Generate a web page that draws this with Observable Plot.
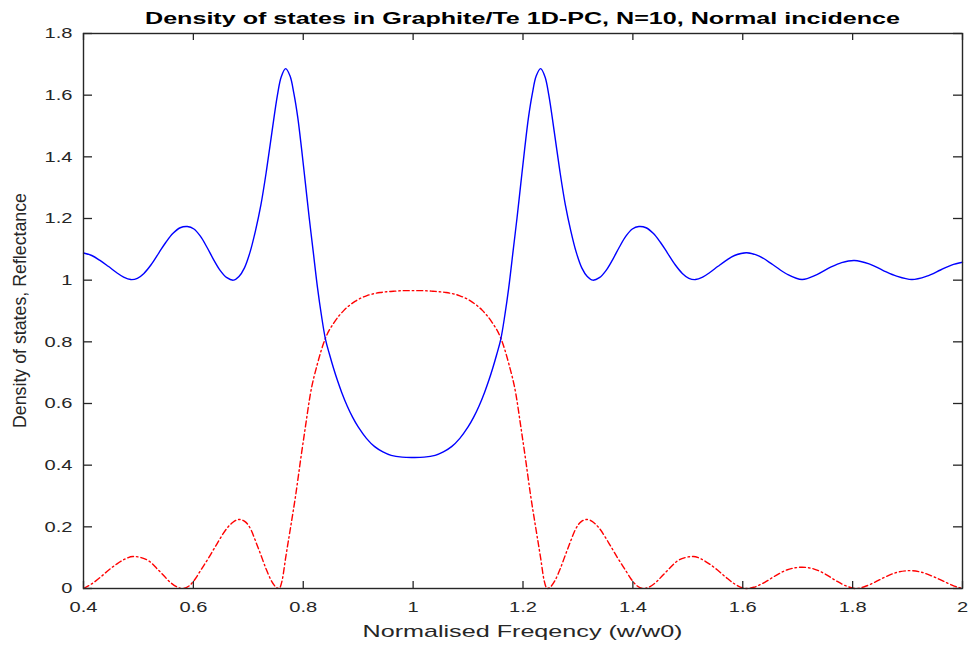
<!DOCTYPE html>
<html><head><meta charset="utf-8">
<script src="https://cdn.jsdelivr.net/npm/d3@7"></script>
<script src="https://cdn.jsdelivr.net/npm/@observablehq/plot@0.6"></script>
<style>
html,body{margin:0;padding:0;background:#fff;}
#chart{position:relative;width:968px;height:646px;}
</style></head><body><div id="chart"></div>
<script>
// Density of states (blue, solid)
const dosFreq = [0.400,0.415,0.430,0.445,0.460,0.473,0.486,0.498,0.510,0.523,0.537,0.550,0.563,0.576,0.589,0.601,0.613,0.625,0.637,0.649,0.661,0.673,0.683,0.693,0.703,0.713,0.723,0.733,0.743,0.753,0.760,0.768,0.776,0.783,0.790,0.797,0.804,0.811,0.818,0.826,0.833,0.8405,0.848,0.855,0.862,0.870,0.880,0.890,0.900,0.915,0.930,0.945,0.960,0.980,1.000,
  1.020,1.040,1.055,1.070,1.085,1.100,1.110,1.120,1.130,1.138,1.145,1.152,1.1595,1.167,1.174,1.182,1.189,1.196,1.203,1.210,1.217,1.224,1.232,1.240,1.247,1.257,1.267,1.277,1.287,1.297,1.307,1.317,1.327,1.339,1.351,1.363,1.375,1.387,1.399,1.411,1.424,1.437,1.450,1.463,1.477,1.490,1.502,1.514,1.527,1.540,1.555,1.570,1.585,
  1.607,1.630,1.655,1.680,1.708,1.735,1.760,1.780,1.803,1.830,1.855,1.880,1.908,1.935,1.960,1.980,2.000];
const dosValue = [1.088,1.080,1.064,1.045,1.025,1.010,1.002,1.006,1.022,1.050,1.088,1.123,1.152,1.170,1.174,1.166,1.142,1.106,1.066,1.031,1.008,1.000,1.012,1.040,1.090,1.160,1.245,1.355,1.480,1.600,1.660,1.686,1.662,1.605,1.528,1.425,1.313,1.200,1.095,0.975,0.887,0.808,0.758,0.715,0.676,0.636,0.592,0.555,0.524,0.487,0.460,0.443,0.432,0.426,0.425,
  0.426,0.432,0.443,0.460,0.487,0.524,0.555,0.592,0.636,0.676,0.715,0.758,0.808,0.887,0.975,1.095,1.200,1.313,1.425,1.528,1.605,1.662,1.686,1.660,1.600,1.480,1.355,1.245,1.160,1.090,1.040,1.012,1.000,1.008,1.031,1.066,1.106,1.142,1.166,1.174,1.170,1.152,1.123,1.088,1.050,1.022,1.006,1.002,1.010,1.025,1.045,1.064,1.080,
  1.089,1.078,1.050,1.020,1.002,1.018,1.042,1.057,1.064,1.053,1.032,1.013,1.002,1.013,1.033,1.049,1.058];

// Reflectance (red, dash-dot)
const refFreq = [0.400,0.415,0.431,0.446,0.461,0.475,0.490,0.505,0.520,0.534,0.546,0.558,0.570,0.580,0.592,0.603,0.613,0.628,0.643,0.661,0.672,0.683,0.694,0.705,0.714,0.722,0.732,0.742,0.750,0.756,0.762,0.768,0.777,0.786,0.795,0.804,0.813,0.826,0.840,0.857,0.874,0.895,0.916,0.940,0.964,0.985,1.000,
  1.015,1.036,1.060,1.084,1.105,1.126,1.143,1.160,1.174,1.187,1.196,1.205,1.214,1.223,1.232,1.238,1.244,1.250,1.258,1.268,1.278,1.286,1.295,1.306,1.317,1.328,1.339,1.357,1.372,1.387,1.397,1.408,1.420,1.430,1.442,1.454,1.466,1.480,1.495,1.510,1.525,1.539,1.554,1.569,1.585,
  1.607,1.620,1.640,1.660,1.680,1.708,1.730,1.750,1.770,1.790,1.805,1.820,1.840,1.860,1.880,1.905,1.925,1.945,1.965,1.985,2.000];
const refValue = [0.000,0.015,0.037,0.060,0.080,0.095,0.104,0.100,0.088,0.064,0.042,0.020,0.005,0.000,0.008,0.030,0.058,0.100,0.145,0.195,0.215,0.224,0.217,0.190,0.150,0.113,0.065,0.025,0.005,0.000,0.030,0.100,0.199,0.300,0.415,0.525,0.631,0.730,0.810,0.865,0.902,0.932,0.950,0.960,0.964,0.966,0.966,
  0.966,0.964,0.960,0.950,0.932,0.902,0.865,0.810,0.730,0.631,0.525,0.415,0.300,0.199,0.100,0.030,0.000,0.005,0.025,0.065,0.113,0.150,0.190,0.217,0.224,0.215,0.195,0.145,0.100,0.058,0.030,0.008,0.000,0.005,0.020,0.042,0.064,0.088,0.100,0.104,0.095,0.080,0.060,0.037,0.015,
  0.000,0.004,0.020,0.042,0.060,0.069,0.063,0.047,0.025,0.007,0.000,0.005,0.020,0.038,0.052,0.058,0.053,0.040,0.024,0.008,0.000];

const xTicks = [0.4,0.6,0.8,1,1.2,1.4,1.6,1.8,2];
const xTickLabels = ["0.4","0.6","0.8","1","1.2","1.4","1.6","1.8","2"];
const yTicks = [0,0.2,0.4,0.6,0.8,1,1.2,1.4,1.6,1.8];
const yTickLabels = ["0","0.2","0.4","0.6","0.8","1","1.2","1.4","1.6","1.8"];

const titleText = "Density of states in Graphite/Te 1D-PC, N=10, Normal incidence";
const xLabelText = "Normalised Freqency (w/w0)";
const yLabelText = "Density of states, Reflectance";

const dos = dosFreq.map((f, i) => ({f, v: dosValue[i]}));
const ref = refFreq.map((f, i) => ({f, v: refValue[i]}));

const W = 968, H = 646, mL = 83, mR = 6, mT = 33, mB = 58;
const innerW = W - mL - mR, innerH = H - mT - mB;
const axisColor = "#262626";
const font = "'Liberation Sans', Arial, Helvetica, sans-serif";

const svg = Plot.plot({
  width: W, height: H,
  marginLeft: mL, marginRight: mR, marginTop: mT, marginBottom: mB,
  style: {fontFamily: font, fontSize: "15px", color: axisColor, background: "white", overflow: "visible"},
  x: {domain: [0.4, 2]},
  y: {domain: [0, 1.8]},
  marks: [
    Plot.line(ref, {x: "f", y: "v", stroke: "#ff0000", strokeWidth: 1.4, strokeDasharray: "6,3,1.5,3", curve: "monotone-x"}),
    Plot.line(dos, {x: "f", y: "v", stroke: "#0000ff", strokeWidth: 1.4, curve: "catmull-rom"}),
    Plot.ruleX(xTicks, {stroke: axisColor, strokeWidth: 1.3, insetTop: innerH - 7}),
    Plot.ruleX(xTicks, {stroke: axisColor, strokeWidth: 1.3, insetBottom: innerH - 7}),
    Plot.ruleY(yTicks, {stroke: axisColor, strokeWidth: 1.3, insetRight: innerW - 9}),
    Plot.ruleY(yTicks, {stroke: axisColor, strokeWidth: 1.3, insetLeft: innerW - 9}),
    Plot.axisX({ticks: xTicks, tickFormat: d => xTickLabels[xTicks.indexOf(d)], tickSize: 0, tickPadding: 13, label: null}),
    Plot.axisY({ticks: yTicks, tickFormat: d => yTickLabels[yTicks.indexOf(d)], tickSize: 0, tickPadding: 11, label: null}),
    Plot.frame({stroke: axisColor, strokeWidth: 1.4})
  ]
});
document.getElementById("chart").appendChild(svg);

const s = d3.select(svg);
// stretch tick labels horizontally like the reference
s.selectAll('g[aria-label="x-axis tick label"] text, g[aria-label="y-axis tick label"] text').each(function() {
  const L = this.getComputedTextLength();
  d3.select(this).attr("textLength", L * 1.34).attr("lengthAdjust", "spacingAndGlyphs");
});

s.append("text")
  .attr("x", (mL + W - mR) / 2).attr("y", 24)
  .attr("text-anchor", "middle")
  .attr("font-family", font).attr("font-weight", "bold").attr("font-size", 16)
  .attr("fill", "#000")
  .attr("textLength", 755).attr("lengthAdjust", "spacingAndGlyphs")
  .text(titleText);

s.append("text")
  .attr("x", (mL + W - mR) / 2).attr("y", 637)
  .attr("text-anchor", "middle")
  .attr("font-family", font).attr("font-size", 17)
  .attr("fill", axisColor)
  .attr("textLength", 320).attr("lengthAdjust", "spacingAndGlyphs")
  .text(xLabelText);

s.append("text")
  .attr("transform", `translate(26,${mT + innerH / 2}) rotate(-90)`)
  .attr("text-anchor", "middle")
  .attr("font-family", font).attr("font-size", 17.5)
  .attr("fill", axisColor)
  .attr("textLength", 235).attr("lengthAdjust", "spacingAndGlyphs")
  .text(yLabelText);
</script>
</body></html>
